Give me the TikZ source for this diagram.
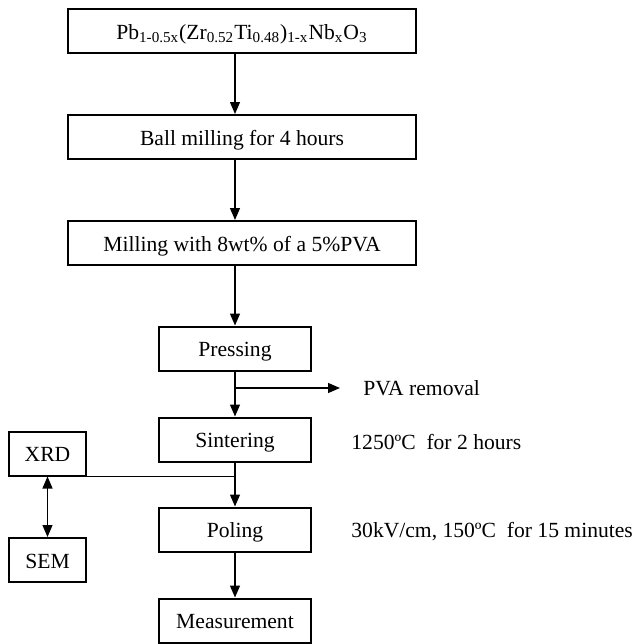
\documentclass[tikz,border=0pt]{standalone}
\usepackage{fontspec}
\setmainfont{Liberation Serif}
\usetikzlibrary{arrows.meta}

\begin{document}
\begin{tikzpicture}[x=0.5pt, y=-0.5pt,
		>={Triangle[length=6pt, width=5pt]},   %Pfeilspitzen
		font=\fontsize{10.8}{13}\selectfont,
		box/.style={draw, line width=1pt, minimum height=22pt, inner sep=0pt, text height=8.4pt, text depth=0pt},
		wide/.style={box, minimum width=174pt},
		stage/.style={box, minimum width=76pt},
		probe/.style={box, minimum width=38.5pt},
		flow/.style={line width=0.6pt},
		note/.style={anchor=west, inner sep=0pt}]
	\useasboundingbox (0,0) rectangle (636,644);
	% Ausgangsschritte
	\node[wide] (mix) at (242,31) {Pb\textsubscript{1-0.5x}(Zr\textsubscript{0.52}Ti\textsubscript{0.48})\textsubscript{1-x}Nb\textsubscript{x}O\textsubscript{3}};
	\node[wide] (ball) at (242,137) {Ball milling for 4 hours};
	\node[wide] (binder) at (242,243) {Milling with 8wt\% of a 5\%PVA};
	% Hauptkette
	\node[stage] (press) at (235,348.5) {Pressing};
	\node[stage] (sinter) at (235,439.5) {Sintering};
	\node[stage] (poling) at (235,529.5) {Poling};
	\node[stage] (measure) at (235,620.5) {Measurement};
	% Analyse
	\node[probe] (xrd) at (47.5,453.5) {XRD};
	\node[probe] (sem) at (47.5,560) {SEM};
	% Bedingungen
	\node[note] (pvatext) at (363,388) {PVA removal};
	\node[note] (sintertext) at (351,442) {1250ºC\ \ for 2 hours};
	\node[note] (poltext) at (351,532) {30kV/cm, 150ºC\ \ for 15 minutes};
	\coordinate (branch) at (press.south |- pvatext.west);
	% Pfeile
	\draw[flow, ->] (mix.south -| press.center) -- (ball.north -| press.center);
	\draw[flow, ->] (ball.south -| press.center) -- (binder.north -| press.center);
	\draw[flow, ->] (binder.south -| press.center) -- (press.north);
	\draw[flow, ->] (press.south) -- (sinter.north);
	\draw[flow, ->] (branch) -- ([xshift=-11.5pt]pvatext.west);
	\draw[flow, ->] (sinter.south) -- (poling.north);
	\draw[flow, ->] (poling.south) -- (measure.north);
	\draw[flow] (xrd.south east) -- (xrd.south east -| sinter.south);
	\draw[flow, <->] (xrd.south) -- (sem.north);
\end{tikzpicture}
\end{document}
